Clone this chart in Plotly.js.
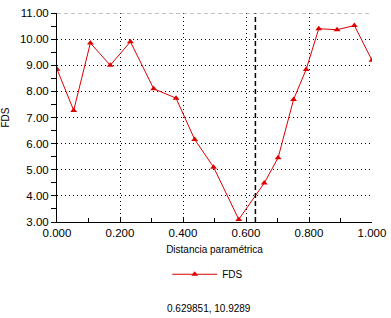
<!DOCTYPE html>
<html>
<head>
<meta charset="utf-8">
<script src="https://cdn.plot.ly/plotly-3.0.1.min.js"></script>
<style>html,body{margin:0;padding:0;background:#fff;}#chart{width:391px;height:318px;}</style>
</head>
<body>
<div id="chart"></div>
<script>
var distancia = [0, 0.053, 0.106, 0.169, 0.233, 0.307, 0.378, 0.437, 0.497, 0.577, 0.658, 0.702, 0.751, 0.791, 0.831, 0.889, 0.944, 1.0];
var fds = [8.85, 7.27, 9.85, 9.0, 9.9, 8.1, 7.74, 6.16, 5.1, 3.1, 4.49, 5.46, 7.69, 8.84, 10.4, 10.36, 10.52, 9.19];
var cursorX = 0.629851;
var cursorLabel = "0.629851, 10.9289";

var FONT = "Liberation Sans, Arial, sans-serif";
var trace = {
  x: distancia, y: fds, type: "scatter", mode: "lines+markers", name: "FDS",
  line: {color: "#dd0000", width: 1},
  marker: {symbol: "triangle-up", size: 6, color: "#dd0000"}
};
var layout = {
  width: 391, height: 318,
  margin: {l: 57, r: 19, t: 13, b: 96, pad: 0},
  paper_bgcolor: "#fff", plot_bgcolor: "#fff",
  font: {family: FONT, size: 11.5, color: "#000"},
  showlegend: true,
  xaxis: {
    range: [0, 1], dtick: 0.2, tick0: 0, tickformat: ".3f",
    showline: true, linecolor: "#000", linewidth: 1,
    ticks: "inside", ticklen: 4, tickcolor: "#000",
    minor: {dtick: 0.1, ticks: "inside", ticklen: 4, tickcolor: "#000", showgrid: false},
    showgrid: true, gridcolor: "#000", gridwidth: 1, griddash: "1px,3px",
    zeroline: false, fixedrange: true,
    title: {text: "Distancia paramétrica", font: {size: 10}, standoff: 8}
  },
  yaxis: {
    range: [3, 11], dtick: 1, tick0: 3, tickformat: ".2f",
    showline: true, linecolor: "#000", linewidth: 1,
    ticks: "outside", ticklen: 5, tickcolor: "#000",
    minor: {dtick: 0.5, ticks: "outside", ticklen: 5, tickcolor: "#000", showgrid: false},
    showgrid: true, gridcolor: "#000", gridwidth: 1, griddash: "1px,3px",
    zeroline: false, fixedrange: true,
    title: {text: "FDS", font: {size: 10}, standoff: 10}
  },
  legend: {
    orientation: "h", x: 0.35, xanchor: "left", y: -0.25, yanchor: "middle",
    font: {size: 10}, bgcolor: "rgba(0,0,0,0)", itemwidth: 45
  },
  shapes: [
    {type: "line", xref: "x", yref: "paper", x0: cursorX, x1: cursorX, y0: 0, y1: 1,
     line: {color: "#000", width: 1.5, dash: "5px,3px"}},
    {type: "line", xref: "paper", yref: "y", x0: 0, x1: 1, y0: 11, y1: 11,
     line: {color: "#888", width: 1, dash: "4px,3px"}}
  ],
  annotations: [
    {text: cursorLabel, xref: "paper", yref: "paper", x: 0.484, y: -0.416,
     xanchor: "center", yanchor: "middle", showarrow: false, font: {size: 10}}
  ]
};
Plotly.newPlot("chart", [trace], layout, {displayModeBar: false, staticPlot: true});
</script>
</body>
</html>
